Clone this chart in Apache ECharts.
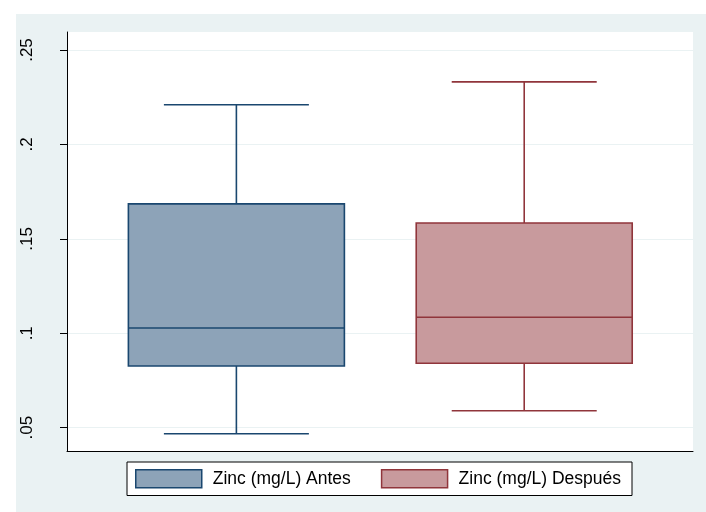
<!DOCTYPE html>
<html>
<head>
<meta charset="utf-8">
<script src="https://cdn.jsdelivr.net/npm/echarts@6/dist/echarts.min.js"></script>
<style>
html,body{margin:0;padding:0;background:#fff;}
#c{width:706px;height:512px;}
</style>
</head>
<body>
<div id="c"></div>
<script>
// Data (box plot statistics)
const groups = ['Zinc (mg/L) Antes', 'Zinc (mg/L) Después'];
const positions = [1, 2];
const lowerWhisker = [0.0468, 0.0590];
const q1 = [0.0827, 0.0841];
const median = [0.1028, 0.1085];
const q3 = [0.1685, 0.1584];
const upperWhisker = [0.2210, 0.2331];
const tickValues = [0.05, 0.10, 0.15, 0.20, 0.25];
const tickLabels = ['.05', '.1', '.15', '.2', '.25'];

const fills = ['#8DA3B8', '#C89A9D'];
const strokes = ['#1A476F', '#90353B'];
const FONT = "'Liberation Sans', Arial, Helvetica, sans-serif";

const BOX_HALF = 108;
const CAP_HALF = 72.5;
const LW = 1.6;

function makeRender(idx) {
  return function (params, api) {
    const x = api.value(0);
    const pLow = api.coord([x, api.value(1)]);
    const pQ1 = api.coord([x, api.value(2)]);
    const pMed = api.coord([x, api.value(3)]);
    const pQ3 = api.coord([x, api.value(4)]);
    const pHigh = api.coord([x, api.value(5)]);
    const cx = pMed[0];
    const ls = { stroke: strokes[idx], lineWidth: LW };
    return {
      type: 'group',
      children: [
        { type: 'line', shape: { x1: cx, y1: pQ3[1], x2: cx, y2: pHigh[1] }, style: ls },
        { type: 'line', shape: { x1: cx, y1: pQ1[1], x2: cx, y2: pLow[1] }, style: ls },
        { type: 'line', shape: { x1: cx - CAP_HALF, y1: pHigh[1], x2: cx + CAP_HALF, y2: pHigh[1] }, style: ls },
        { type: 'line', shape: { x1: cx - CAP_HALF, y1: pLow[1], x2: cx + CAP_HALF, y2: pLow[1] }, style: ls },
        { type: 'rect', shape: { x: cx - BOX_HALF, y: pQ3[1], width: 2 * BOX_HALF, height: pQ1[1] - pQ3[1] },
          style: { fill: fills[idx], stroke: strokes[idx], lineWidth: LW } },
        { type: 'line', shape: { x1: cx - BOX_HALF, y1: pMed[1], x2: cx + BOX_HALF, y2: pMed[1] }, style: ls }
      ]
    };
  };
}

const series = groups.map((name, i) => ({
  name: name,
  type: 'custom',
  renderItem: makeRender(i),
  itemStyle: { color: fills[i], borderColor: strokes[i], borderWidth: LW },
  encode: { x: 0, y: [1, 2, 3, 4, 5] },
  data: [[positions[i], lowerWhisker[i], q1[i], median[i], q3[i], upperWhisker[i]]],
  silent: true
}));

const chart = echarts.init(document.getElementById('c'), null, { renderer: 'canvas' });
chart.setOption({
  animation: false,
  backgroundColor: '#ffffff',
  graphic: [{
    type: 'rect', z: -10, silent: true,
    shape: { x: 16, y: 14, width: 690, height: 498 },
    style: { fill: '#EAF2F3' }
  }],
  grid: {
    left: 67, top: 32, right: 13, bottom: 61,
    show: true, backgroundColor: '#ffffff', borderWidth: 0,
    containLabel: false
  },
  xAxis: {
    type: 'value',
    min: 0.4115, max: 2.5864,
    axisLine: { show: true, onZero: false, lineStyle: { color: '#000', width: 1 } },
    axisTick: { show: false },
    axisLabel: { show: false },
    splitLine: { show: false }
  },
  yAxis: {
    type: 'value',
    min: 0.03766, max: 0.25953,
    axisLine: { show: true, onZero: false, lineStyle: { color: '#000', width: 1 } },
    axisTick: { show: true, length: 7, customValues: tickValues, lineStyle: { color: '#000', width: 1 } },
    axisLabel: {
      show: true, rotate: 90, margin: 31, customValues: tickValues,
      color: '#000', fontFamily: FONT, fontSize: 17,
      formatter: function (v) {
        const k = tickValues.findIndex(t => Math.abs(t - v) < 1e-9);
        return k >= 0 ? tickLabels[k] : '';
      }
    },
    splitLine: { show: true, lineStyle: { color: '#EAF2F3', width: 1 } }
  },
  legend: {
    left: 127, top: 462,
    orient: 'horizontal',
    padding: [7, 11, 7, 8],
    itemWidth: 66, itemHeight: 18, itemGap: 30,
    backgroundColor: '#ffffff', borderColor: '#000', borderWidth: 1, borderRadius: 0,
    selectedMode: false,
    textStyle: { color: '#000', fontFamily: FONT, fontSize: 17.5, padding: [0, 0, 0, 6] },
    data: groups.map((g, i) => ({
      name: g, icon: 'rect',
      itemStyle: { color: fills[i], borderColor: strokes[i], borderWidth: 1.5 }
    }))
  },
  series: series
});
</script>
</body>
</html>
